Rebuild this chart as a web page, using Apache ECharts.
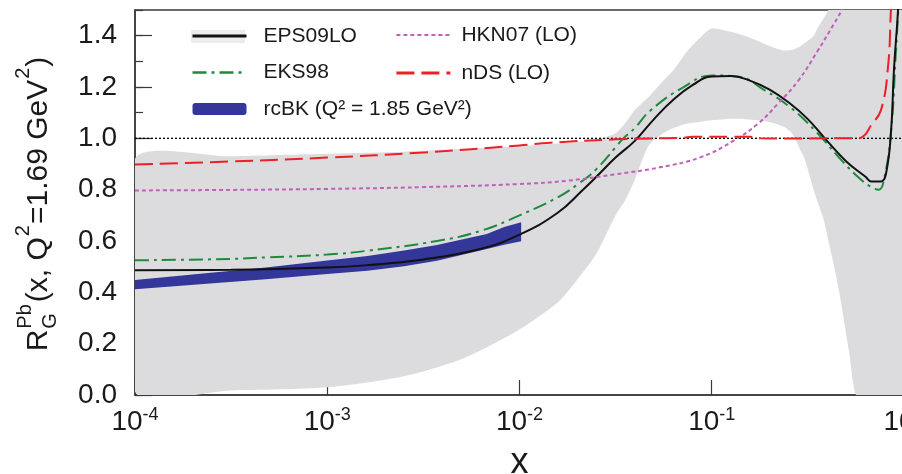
<!DOCTYPE html>
<html><head><meta charset="utf-8">
<script src="https://cdn.jsdelivr.net/npm/echarts@6/dist/echarts.min.js"></script>
<style>html,body{margin:0;padding:0;background:#fff}#c{width:902px;height:474px}</style>
</head><body><div id="c"></div>
<script>
// ---------------- data ----------------
const xTickLabels = ['10^-4','10^-3','10^-2','10^-1','10^0'];
const yTickLabels = ['0.0','0.2','0.4','0.6','0.8','1.0','1.2','1.4'];

const eps09 = [[1e-4,0.486],[3.16e-4,0.488],[1e-3,0.497],[1.62e-3,0.506],[3.16e-3,0.528],[6.31e-3,0.57],[0.01,0.625],
 [0.0158,0.71],[0.0214,0.80],[0.0251,0.85],[0.0316,0.925],[0.0398,0.99],[0.0501,1.075],[0.0631,1.15],[0.0794,1.207],
 [0.1,1.241],[0.126,1.243],[0.158,1.225],[0.2,1.19],[0.251,1.14],[0.316,1.075],[0.398,0.99],[0.501,0.91],[0.631,0.85],
 [0.676,0.832],[0.759,0.832],[0.805,0.86],[0.855,1.02],[0.887,1.27],[0.931,1.5],[0.955,1.7]];

const eks98 = [[1e-4,0.525],[3.16e-4,0.53],[4.79e-4,0.536],[1e-3,0.547],[1.62e-3,0.562],[3.72e-3,0.60],[6.31e-3,0.64],
 [0.01,0.70],[0.0158,0.77],[0.02,0.82],[0.0251,0.88],[0.0316,0.965],[0.0347,1.0],[0.0398,1.04],[0.0479,1.108],
 [0.0708,1.198],[0.1,1.245],[0.138,1.24],[0.186,1.19],[0.257,1.12],[0.355,1.02],[0.453,0.93],[0.575,0.85],
 [0.676,0.81],[0.741,0.80],[0.787,0.84],[0.855,1.02],[0.908,1.34],[0.942,1.55]];

const hkn07 = [[1e-4,0.797],[3.16e-4,0.799],[1e-3,0.803],[3.16e-3,0.81],[0.01,0.822],[0.0178,0.835],[0.0316,0.86],
 [0.0537,0.887],[0.0871,0.926],[0.130,0.991],[0.174,1.057],[0.221,1.135],[0.282,1.225],[0.355,1.34],[0.432,1.446],
 [0.490,1.52],[0.525,1.58]];

const nds = [[1e-4,0.898],[3.16e-4,0.91],[1e-3,0.925],[3.16e-3,0.945],[0.01,0.972],[0.0145,0.983],[0.0316,0.996],
 [0.0501,1.0],[0.0708,1.002],[0.0794,1.006],[0.126,1.006],[0.158,1.006],[0.178,1.0],[0.251,0.999],[0.398,1.0],
 [0.562,1.0],[0.619,1.01],[0.673,1.05],[0.759,1.11],[0.826,1.28],[0.855,1.5],[0.871,1.6]];

// rcBK band: x, lower, upper
const rcbkX   = [1e-4, 4.79e-4, 1e-3, 1.62e-3, 2.51e-3, 3.72e-3, 6.76e-3, 8.32e-3, 0.0102];
const rcbkLow = [0.412, 0.451, 0.471, 0.484, 0.502, 0.523, 0.569, 0.585, 0.599];
const rcbkUp  = [0.448, 0.497, 0.524, 0.542, 0.563, 0.584, 0.627, 0.655, 0.673];

// EPS09 uncertainty band: x, lower, upper
const bandX   = [1e-4,3.16e-4,1e-3,2.51e-3,5.01e-3,0.01,0.0158,0.02,0.0251,0.0316,0.0355,0.0398,0.0468,0.0537,0.0631,
 0.075,0.0891,0.1,0.126,0.158,0.2,0.237,0.263,0.291,0.302,0.339,0.356,0.380,0.402,0.453,0.518,0.562,0.631,1.0];
const bandLow = [0.013,0.018,0.03,0.073,0.14,0.255,0.36,0.45,0.55,0.70,0.76,0.84,0.97,1.01,1.04,
 1.058,1.066,1.07,1.076,1.073,1.063,1.045,1.017,0.95,0.926,0.80,0.75,0.69,0.61,0.43,0.17,0.0,0.0,0.0];
const bandUp  = [0.92,0.93,0.94,0.948,0.958,0.97,0.98,0.986,0.995,1.02,1.06,1.11,1.16,1.21,1.265,
 1.342,1.40,1.428,1.415,1.392,1.36,1.342,1.345,1.36,1.369,1.40,1.431,1.465,1.497,1.6,1.7,1.7,1.7,1.7];

// ---------------- chart ----------------
const FONT = '"Liberation Sans", Arial, sans-serif';
const TXT = '#1a1a1a';
const chart = echarts.init(document.getElementById('c'), null, {renderer:'canvas'});

// y-axis title built as rotated rich pieces
function yTitle() {
  const ctx = document.createElement('canvas').getContext('2d');
  const w = (t, s) => { ctx.font = s + 'px "Liberation Sans"'; return ctx.measureText(t).width; };
  const big = 30, small = 20;
  const pieces = [];
  let x = 0;
  const add = (t, s, base, px) => pieces.push({t, s, base, x: px});
  add('R', big, 0, x); x += w('R', big) + 1;
  add('Pb', small, -16, x); add('G', small, 9, x); x += Math.max(w('Pb', small), w('G', small)) + 2;
  add('(x, Q', big, 0, x); x += w('(x, Q', big) + 1;
  add('2', small, -18, x); x += w('2', small) + 1;
  add('=1.69 GeV', big, 0, x); x += w('=1.69 GeV', big) + 1;
  add('2', small, -18, x); x += w('2', small) + 1;
  add(')', big, 0, x); x += w(')', big);
  const total = x;
  return {
    type: 'group', x: 48, y: 204, rotation: Math.PI / 2, silent: true,
    children: pieces.map(p => ({
      type: 'text', x: p.x - total / 2, y: p.base - 0.31 * p.s,
      style: { text: p.t, fontSize: p.s, fontFamily: FONT, fill: TXT, align: 'left', verticalAlign: 'middle' }
    }))
  };
}

// band polygon drawn through the axes' own scales
function bandRenderer(xs, lo, up, color, smooth) {
  return function (params, api) {
    const top = xs.map((x, i) => api.coord([x, up[i]]));
    const bot = xs.map((x, i) => api.coord([x, lo[i]])).reverse();
    const cs = params.coordSys;
    return {
      type: 'polygon', shape: { points: top.concat(bot), smooth: smooth },
      style: { fill: color, stroke: null },
      clipPath: { type: 'rect', shape: { x: cs.x, y: cs.y, width: cs.width, height: cs.height } }
    };
  };
}

const lineBase = { type: 'line', showSymbol: false, symbol: 'none', silent: true, clip: true, smooth: 0.45 };
const noSym = { opacity: 0 };

const option = {
  animation: false,
  backgroundColor: '#fff',
  textStyle: { fontFamily: FONT },
  grid: { left: 135, right: -2, top: 10, bottom: 79, outerBoundsMode: 'none', containLabel: false,
    show: true, borderColor: '#3a3a3a', borderWidth: 1.5, backgroundColor: 'transparent' },
  xAxis: {
    type: 'log', logBase: 10, min: 1e-4, max: 1,
    axisLine: { lineStyle: { color: '#3a3a3a', width: 1.5 } },
    axisTick: { inside: true, length: 15, lineStyle: { color: '#3a3a3a', width: 1.2 } },
    splitLine: { show: false },
    axisLabel: {
      margin: 11, color: TXT, hideOverlap: false,
      formatter: v => {
        const e = Math.round(Math.log10(v));
        const lab = xTickLabels[e + 4] || ('10^' + e);
        const parts = lab.split('^');
        return '{b|' + parts[0] + '}{s|' + parts[1] + '}';
      },
      rich: {
        b: { fontSize: 28, lineHeight: 30, padding: [8, 0, 0, 0], verticalAlign: 'bottom', fontFamily: FONT, color: TXT },
        s: { fontSize: 18, lineHeight: 18, verticalAlign: 'top', fontFamily: FONT, color: TXT }
      }
    },
    name: 'x', nameLocation: 'middle', nameGap: 50,
    nameTextStyle: { fontSize: 36, fontFamily: FONT, color: TXT }
  },
  yAxis: [{
    type: 'value', min: 0, max: 1.5, interval: 0.2,
    axisLine: { show: true, lineStyle: { color: '#3a3a3a', width: 1.5 } },
    axisTick: { show: true, inside: true, length: 17, lineStyle: { color: '#3a3a3a', width: 1.2 } },
    splitLine: { show: false },
    axisLabel: { margin: 18, fontSize: 28, color: TXT, fontFamily: FONT, showMaxLabel: false,
      formatter: v => yTickLabels[Math.round(v / 0.2)] || '' }
  }, {
    type: 'value', min: 0, max: 1.5, interval: 0.1, position: 'left',
    axisLine: { show: false }, axisLabel: { show: false }, splitLine: { show: false },
    axisTick: { show: true, inside: true, length: 8, lineStyle: { color: '#3a3a3a', width: 1.2 } }
  }],
  legend: [{
    data: [{ name: 'EPS09LO', itemStyle: noSym, lineStyle: { width: 3 } },
           { name: 'EKS98', itemStyle: noSym, lineStyle: { width: 2.6 } },
           { name: 'rcBK (Q² = 1.85 GeV²)' }],
    orient: 'vertical', left: 191, top: 24, padding: 0,
    itemWidth: 54, itemHeight: 12, itemGap: 12.5, selectedMode: false,
    textStyle: { fontSize: 21, lineHeight: 24, color: TXT, fontFamily: FONT, padding: [0, 0, 0, 12] }
  }, {
    data: [{ name: 'HKN07 (LO)', itemStyle: noSym, lineStyle: { width: 2.2 } },
           { name: 'nDS (LO)', itemStyle: noSym, lineStyle: { width: 2.8 } }],
    orient: 'vertical', left: 395, top: 23, padding: 0,
    itemWidth: 54, itemHeight: 12, itemGap: 14, selectedMode: false,
    textStyle: { fontSize: 21, lineHeight: 24, color: TXT, fontFamily: FONT, padding: [0, 0, 0, 6] }
  }],
  graphic: [
    { type: 'rect', shape: { x: 191, y: 30, width: 54, height: 13 }, style: { fill: '#ececed' }, z: 0, silent: true },
    yTitle()
  ],
  series: [
    { type: 'custom', name: '_band', data: [[1e-4, 0]], silent: true, z: 1,
      renderItem: bandRenderer(bandX, bandLow, bandUp, '#dcdcdf', 0.25) },
    Object.assign({}, lineBase, { name: '_unity', smooth: false, data: [[1e-4, 1], [1, 1]], z: 2,
      lineStyle: { color: '#000', width: 1.3, type: [2, 2] } }),
    { type: 'custom', name: 'rcBK (Q² = 1.85 GeV²)', data: [[1e-4, 0.4]], silent: true, z: 3, legendIcon: 'rect',
      itemStyle: { color: '#34379a' },
      renderItem: bandRenderer(rcbkX, rcbkLow, rcbkUp, '#34379a', 0) },
    Object.assign({}, lineBase, { name: 'EPS09LO', data: eps09, z: 5, itemStyle: { color: '#111' },
      lineStyle: { color: '#111', width: 2 } }),
    Object.assign({}, lineBase, { name: 'EKS98', data: eks98, z: 4, itemStyle: { color: '#1f8a3c' },
      lineStyle: { color: '#1f8a3c', width: 2, type: [14, 5, 3, 5] } }),
    Object.assign({}, lineBase, { name: 'HKN07 (LO)', data: hkn07, z: 6, itemStyle: { color: '#c060b6' },
      lineStyle: { color: '#c060b6', width: 2, type: [4, 3] } }),
    Object.assign({}, lineBase, { name: 'nDS (LO)', data: nds, z: 6, itemStyle: { color: '#ec2027' },
      lineStyle: { color: '#ec2027', width: 2, type: [18, 7] } })
  ]
};
chart.setOption(option);
</script></body></html>
